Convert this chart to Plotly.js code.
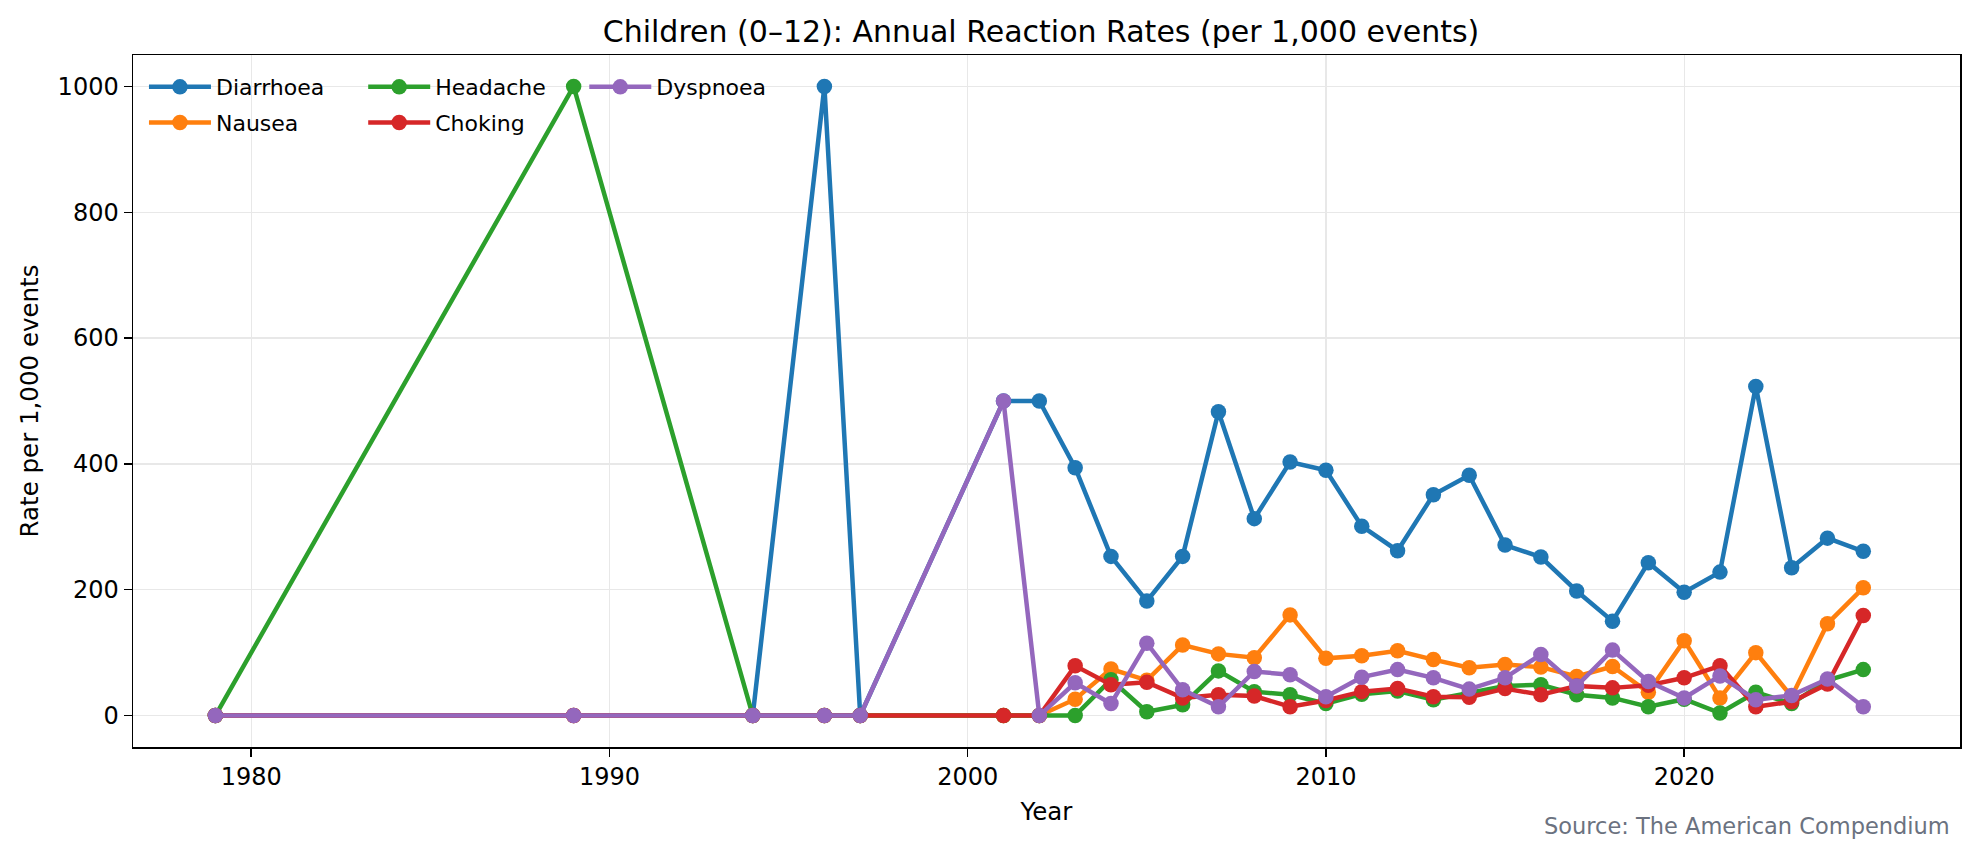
<!DOCTYPE html>
<html>
<head>
<meta charset="utf-8">
<script src="https://cdn.plot.ly/plotly-3.0.1.min.js"></script>
<style>
html,body{margin:0;padding:0;background:#fff;}
#chart{width:1968px;height:853px;}
</style>
</head>
<body>
<div id="chart"></div>
<script>
const years = [1979,1989,1994,1996,1997,2001,2002,2003,2004,2005,2006,2007,2008,2009,2010,2011,2012,2013,2014,2015,2016,2017,2018,2019,2020,2021,2022,2023,2024,2025];
const diarrhoea = [0,0,0,1000,0,500,500,394,253,182,253,483,313,403,390,301,262,351,382,271,252,198,150,243,196,228,523,235,282,261];
const nausea = [0,0,0,0,0,0,0,26,74,56,112,98,92,160,91,95,103,89,76,81,77,62,78,37,119,28,100,30,146,203];
const headache = [0,1000,0,0,0,0,0,0,57,6,17,71,38,33,19,34,39,25,36,47,49,33,28,14,26,4,37,19,56,73];
const choking = [0,0,0,0,0,0,0,79,49,53,28,33,31,14,24,38,43,30,29,43,33,47,44,48,60,79,14,22,50,159];
const dyspnoea = [0,0,0,0,0,500,0,52,19,115,41,14,70,65,30,61,73,60,42,60,97,47,104,54,28,63,25,32,58,14];

const seriesNames = ['Diarrhoea','Nausea','Headache','Choking','Dyspnoea'];
const seriesData = [diarrhoea, nausea, headache, choking, dyspnoea];
const colors = ['#1f77b4','#ff7f0e','#2ca02c','#d62728','#9467bd'];
const legendIds = ['legend','legend','legend2','legend2','legend3'];

const FONT = 'DejaVu Sans, sans-serif';

const traces = seriesNames.map((n,i)=>({
  type:'scatter', mode:'lines+markers', name:n,
  x: years, y: seriesData[i],
  line:{color:colors[i], width:4.5},
  marker:{color:colors[i], size:15.5},
  legend: legendIds[i], legendgroup: n
}));

const legendBase = {
  font:{family:FONT, size:22, color:'#000'},
  bgcolor:'rgba(255,255,255,0)', borderwidth:0,
  xanchor:'left', yanchor:'top', y:0.984, orientation:'v',
  itemwidth:62, tracegroupgap:4
};

const layout = {
  width:1968, height:853,
  paper_bgcolor:'#fff', plot_bgcolor:'#fff',
  margin:{l:133, r:8, t:55, b:106},
  font:{family:FONT, color:'#000'},
  title:{text:'Children (0–12): Annual Reaction Rates (per 1,000 events)',
         font:{family:FONT, size:30, color:'#000'}, xref:'paper', x:0.497, xanchor:'center', y:0.963, yanchor:'middle'},
  xaxis:{
    range:[1976.7, 2027.7], tickmode:'array', tickvals:[1980,1990,2000,2010,2020],
    ticks:'outside', ticklen:8, tickwidth:1.5, tickcolor:'#000',
    showline:true, mirror:true, linecolor:'#000', linewidth:1.5,
    showgrid:true, gridcolor:'#e8e8e8', gridwidth:1.3, zeroline:false,
    tickfont:{family:FONT, size:24, color:'#000'},
    title:{text:'Year', font:{family:FONT, size:24.5, color:'#000'}, standoff:12}
  },
  yaxis:{
    range:[-50,1050], tickmode:'array', tickvals:[0,200,400,600,800,1000],
    ticks:'outside', ticklen:8, tickwidth:1.5, tickcolor:'#000',
    showline:true, mirror:true, linecolor:'#000', linewidth:1.5,
    showgrid:true, gridcolor:'#e8e8e8', gridwidth:1.3, zeroline:false,
    tickfont:{family:FONT, size:24, color:'#000'},
    title:{text:'Rate per 1,000 events', font:{family:FONT, size:24.5, color:'#000'}, standoff:12}
  },
  legend: Object.assign({}, legendBase, {x:0.006}),
  legend2: Object.assign({}, legendBase, {x:0.126}),
  legend3: Object.assign({}, legendBase, {x:0.247}),
  annotations:[{
    text:'Source: The American Compendium', xref:'paper', yref:'paper',
    x:0.9955, y:-0.092, xanchor:'right', yanchor:'top', showarrow:false,
    font:{family:FONT, size:22.5, color:'#6b7280'}
  }]
};

Plotly.newPlot('chart', traces, layout, {displayModeBar:false, staticPlot:true});
</script>
</body>
</html>
